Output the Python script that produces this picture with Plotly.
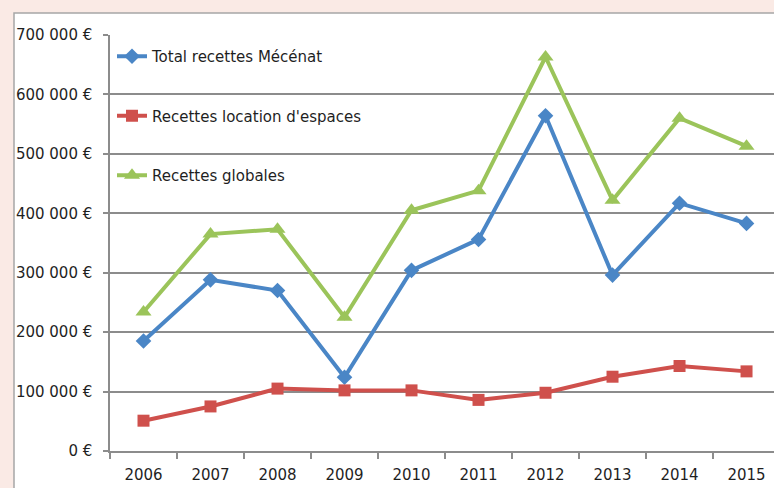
import plotly.graph_objects as go

years = ["2006", "2007", "2008", "2009", "2010", "2011", "2012", "2013", "2014", "2015"]
mecenat = [185000, 288000, 270000, 124000, 304000, 356000, 564000, 296000, 417000, 383000]
location = [51000, 75000, 105000, 102000, 102000, 86000, 98000, 125000, 143000, 134000]
globales = [234000, 365000, 373000, 225000, 405000, 438000, 663000, 422000, 560000, 513000]
series_names = ["Total recettes Mécénat", "Recettes location d'espaces", "Recettes globales"]
y_tickvals = [0, 100000, 200000, 300000, 400000, 500000, 600000, 700000]
y_ticktext = ["0 €", "100 000 €", "200 000 €", "300 000 €", "400 000 €", "500 000 €", "600 000 €", "700 000 €"]

W, H = 774, 488
ML, MR, MT, MB = 110, 0, 35, 37
FONT = "DejaVu Sans"
FS = 15
TXT = "#1F1F1F"
BG = "#FAEAE5"

fig = go.Figure()
styles = [
    dict(color="#4A86C6", symbol="diamond", size=12),
    dict(color="#CF504C", symbol="square", size=12),
    dict(color="#9BC45A", symbol="triangle-up", size=14),
]
for i, (name, vals) in enumerate(zip(series_names, [mecenat, location, globales])):
    st = styles[i]
    fig.add_trace(go.Scatter(
        x=years, y=vals, name=name, mode="lines+markers",
        legendgroup="g%d" % i,
        line=dict(color=st["color"], width=4),
        marker=dict(color=st["color"], symbol=st["symbol"], size=st["size"]),
    ))

pw = W - ML - MR
ph = H - MT - MB
def px2x(p):
    return (p - ML) / pw
def px2y(p):
    return (H - MB - p) / ph

fig.add_shape(type="rect", xref="paper", yref="paper",
              x0=px2x(14), x1=px2x(800), y0=px2y(520), y1=px2y(13),
              fillcolor="white", line=dict(color="#A6A6A6", width=1.5), layer="below")

fig.update_layout(
    width=W, height=H,
    margin=dict(l=ML, r=MR, t=MT, b=MB, pad=0),
    paper_bgcolor=BG,
    plot_bgcolor="rgba(0,0,0,0)",
    font=dict(family=FONT, size=FS, color=TXT),
    showlegend=True,
    legend=dict(
        x=px2x(112), y=px2y(40), xanchor="left", yanchor="top",
        bgcolor="rgba(0,0,0,0)", traceorder="grouped", tracegroupgap=37,
        font=dict(family=FONT, size=FS, color=TXT),
    ),
    xaxis=dict(
        type="category", range=[-0.5, 9.41], tickson="boundaries",
        showgrid=False, showline=True, linecolor="#8C8C8C", linewidth=1.5,
        ticks="outside", ticklen=6, tickcolor="#8C8C8C", tickwidth=1.5,
        ticklabelstandoff=9,
        tickfont=dict(family=FONT, size=FS, color=TXT),
        zeroline=False, fixedrange=True,
    ),
    yaxis=dict(
        range=[0, 700000], tickvals=y_tickvals, ticktext=y_ticktext,
        showgrid=True, gridcolor="#8C8C8C", gridwidth=1.5,
        showline=True, linecolor="#8C8C8C", linewidth=1.5,
        ticks="outside", ticklen=5, tickcolor="#8C8C8C", tickwidth=1.5,
        ticklabelstandoff=8,
        tickfont=dict(family=FONT, size=FS, color=TXT),
        zeroline=False, fixedrange=True,
    ),
)

fig.write_html(
    "out.html",
    config={"displayModeBar": False},
    post_script="document.body.style.margin='0';document.body.style.background='%s';" % BG,
)
